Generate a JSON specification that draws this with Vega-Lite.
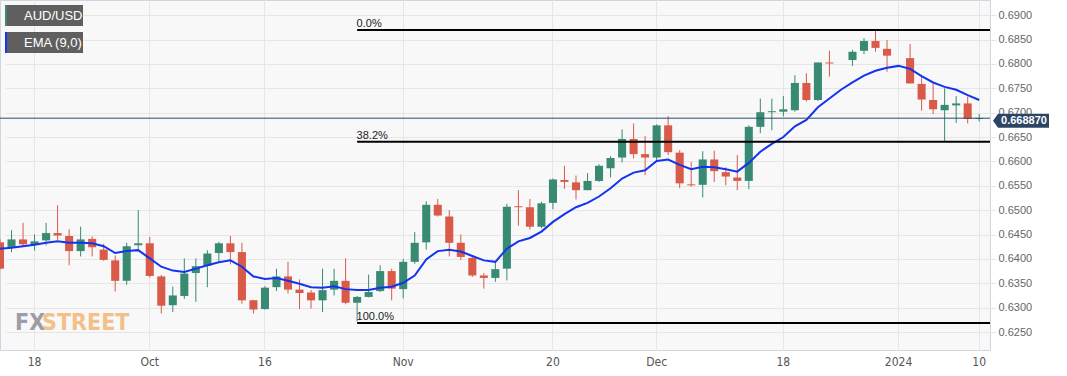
{
  "$schema": "https://vega.github.io/schema/vega-lite/v6.json",
  "width": 990,
  "height": 350,
  "autosize": {"type": "none"},
  "padding": {"left": 0, "top": 0, "right": 77, "bottom": 26},
  "background": "#ffffff",
  "config": {
    "view": {"fill": "#f8f8f8", "stroke": "#cfd5e1", "strokeWidth": 1},
    "axis": {"gridColor": "#e6e6e6", "gridWidth": 1},
    "legend": {"layout": {"top-left": {"direction": "vertical", "margin": 6, "anchor": "start"}}}
  },
  "data": {"values": [
    {"date":"2023-09-13","open":0.6434,"high":0.6440,"low":0.6378,"close":0.6380,"ema":0.6421},
    {"date":"2023-09-14","open":0.6424,"high":0.6459,"low":0.6414,"close":0.6440,"ema":0.6423},
    {"date":"2023-09-15","open":0.6440,"high":0.6474,"low":0.6426,"close":0.6430,"ema":0.6426},
    {"date":"2023-09-18","open":0.6429,"high":0.6450,"low":0.6417,"close":0.6436,"ema":0.6429},
    {"date":"2023-09-19","open":0.6438,"high":0.6474,"low":0.6428,"close":0.6453,"ema":0.6433},
    {"date":"2023-09-20","open":0.6453,"high":0.6510,"low":0.6439,"close":0.6448,"ema":0.6436},
    {"date":"2023-09-21","open":0.6447,"high":0.6461,"low":0.6387,"close":0.6416,"ema":0.6433},
    {"date":"2023-09-22","open":0.6416,"high":0.6466,"low":0.6405,"close":0.6440,"ema":0.6433},
    {"date":"2023-09-25","open":0.6441,"high":0.6446,"low":0.6405,"close":0.6424,"ema":0.6432},
    {"date":"2023-09-26","open":0.6419,"high":0.6431,"low":0.6396,"close":0.6398,"ema":0.6426},
    {"date":"2023-09-27","open":0.6397,"high":0.6407,"low":0.6333,"close":0.6355,"ema":0.6412},
    {"date":"2023-09-28","open":0.6355,"high":0.6433,"low":0.6347,"close":0.6426,"ema":0.6416},
    {"date":"2023-09-29","open":0.6428,"high":0.6500,"low":0.6418,"close":0.6432,"ema":0.6418},
    {"date":"2023-10-02","open":0.6432,"high":0.6445,"low":0.6362,"close":0.6365,"ema":0.6401},
    {"date":"2023-10-03","open":0.6364,"high":0.6367,"low":0.6288,"close":0.6304,"ema":0.6384},
    {"date":"2023-10-04","open":0.6305,"high":0.6343,"low":0.6291,"close":0.6325,"ema":0.6376},
    {"date":"2023-10-05","open":0.6324,"high":0.6401,"low":0.6318,"close":0.6370,"ema":0.6373},
    {"date":"2023-10-06","open":0.6371,"high":0.6401,"low":0.6312,"close":0.6385,"ema":0.6380},
    {"date":"2023-10-09","open":0.6386,"high":0.6418,"low":0.6342,"close":0.6411,"ema":0.6387},
    {"date":"2023-10-10","open":0.6412,"high":0.6435,"low":0.6394,"close":0.6432,"ema":0.6393},
    {"date":"2023-10-11","open":0.6432,"high":0.6447,"low":0.6389,"close":0.6414,"ema":0.6397},
    {"date":"2023-10-12","open":0.6414,"high":0.6433,"low":0.6308,"close":0.6315,"ema":0.6384},
    {"date":"2023-10-13","open":0.6315,"high":0.6316,"low":0.6288,"close":0.6296,"ema":0.6364},
    {"date":"2023-10-16","open":0.6297,"high":0.6344,"low":0.6296,"close":0.6341,"ema":0.6359},
    {"date":"2023-10-17","open":0.6342,"high":0.6380,"low":0.6334,"close":0.6364,"ema":0.6361},
    {"date":"2023-10-18","open":0.6364,"high":0.6394,"low":0.6329,"close":0.6337,"ema":0.6355},
    {"date":"2023-10-19","open":0.6337,"high":0.6358,"low":0.6297,"close":0.6330,"ema":0.6349},
    {"date":"2023-10-20","open":0.6331,"high":0.6336,"low":0.6298,"close":0.6315,"ema":0.6342},
    {"date":"2023-10-23","open":0.6315,"high":0.6380,"low":0.6291,"close":0.6336,"ema":0.6341},
    {"date":"2023-10-24","open":0.6337,"high":0.6380,"low":0.6325,"close":0.6355,"ema":0.6344},
    {"date":"2023-10-25","open":0.6355,"high":0.6401,"low":0.6307,"close":0.6310,"ema":0.6338},
    {"date":"2023-10-26","open":0.6310,"high":0.6324,"low":0.6272,"close":0.6322,"ema":0.6336},
    {"date":"2023-10-27","open":0.6322,"high":0.6368,"low":0.6321,"close":0.6332,"ema":0.6336},
    {"date":"2023-10-30","open":0.6334,"high":0.6387,"low":0.6332,"close":0.6375,"ema":0.6341},
    {"date":"2023-10-31","open":0.6375,"high":0.6380,"low":0.6315,"close":0.6339,"ema":0.6343},
    {"date":"2023-11-01","open":0.6338,"high":0.6400,"low":0.6319,"close":0.6394,"ema":0.6351},
    {"date":"2023-11-02","open":0.6394,"high":0.6455,"low":0.6390,"close":0.6433,"ema":0.6366},
    {"date":"2023-11-03","open":0.6434,"high":0.6518,"low":0.6419,"close":0.6511,"ema":0.6399},
    {"date":"2023-11-06","open":0.6511,"high":0.6523,"low":0.6487,"close":0.6489,"ema":0.6416},
    {"date":"2023-11-07","open":0.6487,"high":0.6500,"low":0.6405,"close":0.6433,"ema":0.6419},
    {"date":"2023-11-08","open":0.6433,"high":0.6450,"low":0.6398,"close":0.6404,"ema":0.6415},
    {"date":"2023-11-09","open":0.6402,"high":0.6407,"low":0.6363,"close":0.6366,"ema":0.6406},
    {"date":"2023-11-10","open":0.6366,"high":0.6371,"low":0.6339,"close":0.6361,"ema":0.6397},
    {"date":"2023-11-13","open":0.6361,"high":0.6394,"low":0.6353,"close":0.6379,"ema":0.6394},
    {"date":"2023-11-14","open":0.6380,"high":0.6513,"low":0.6356,"close":0.6507,"ema":0.6421},
    {"date":"2023-11-15","open":0.6508,"high":0.6541,"low":0.6468,"close":0.6506,"ema":0.6436},
    {"date":"2023-11-16","open":0.6506,"high":0.6523,"low":0.6460,"close":0.6466,"ema":0.6443},
    {"date":"2023-11-17","open":0.6466,"high":0.6517,"low":0.6463,"close":0.6514,"ema":0.6456},
    {"date":"2023-11-20","open":0.6515,"high":0.6565,"low":0.6502,"close":0.6563,"ema":0.6476},
    {"date":"2023-11-21","open":0.6562,"high":0.6591,"low":0.6544,"close":0.6558,"ema":0.6492},
    {"date":"2023-11-22","open":0.6557,"high":0.6571,"low":0.6522,"close":0.6541,"ema":0.6506},
    {"date":"2023-11-23","open":0.6541,"high":0.6576,"low":0.6541,"close":0.6560,"ema":0.6515},
    {"date":"2023-11-24","open":0.6560,"high":0.6594,"low":0.6558,"close":0.6591,"ema":0.6528},
    {"date":"2023-11-27","open":0.6586,"high":0.6611,"low":0.6567,"close":0.6607,"ema":0.6545},
    {"date":"2023-11-28","open":0.6608,"high":0.6666,"low":0.6598,"close":0.6646,"ema":0.6565},
    {"date":"2023-11-29","open":0.6646,"high":0.6678,"low":0.6606,"close":0.6615,"ema":0.6577},
    {"date":"2023-11-30","open":0.6615,"high":0.6652,"low":0.6572,"close":0.6608,"ema":0.6582},
    {"date":"2023-12-01","open":0.6608,"high":0.6676,"low":0.6603,"close":0.6674,"ema":0.6601},
    {"date":"2023-12-04","open":0.6674,"high":0.6693,"low":0.6613,"close":0.6619,"ema":0.6604},
    {"date":"2023-12-05","open":0.6618,"high":0.6623,"low":0.6545,"close":0.6555,"ema":0.6593},
    {"date":"2023-12-06","open":0.6553,"high":0.6599,"low":0.6548,"close":0.6551,"ema":0.6584},
    {"date":"2023-12-07","open":0.6552,"high":0.6621,"low":0.6526,"close":0.6604,"ema":0.6589},
    {"date":"2023-12-08","open":0.6604,"high":0.6622,"low":0.6558,"close":0.6580,"ema":0.6588},
    {"date":"2023-12-11","open":0.6578,"high":0.6588,"low":0.6551,"close":0.6569,"ema":0.6584},
    {"date":"2023-12-12","open":0.6567,"high":0.6613,"low":0.6541,"close":0.6560,"ema":0.6579},
    {"date":"2023-12-13","open":0.6560,"high":0.6674,"low":0.6543,"close":0.6671,"ema":0.6597},
    {"date":"2023-12-14","open":0.6671,"high":0.6729,"low":0.6658,"close":0.6701,"ema":0.6620},
    {"date":"2023-12-15","open":0.6701,"high":0.6729,"low":0.6664,"close":0.6703,"ema":0.6636},
    {"date":"2023-12-18","open":0.6702,"high":0.6734,"low":0.6692,"close":0.6707,"ema":0.6650},
    {"date":"2023-12-19","open":0.6705,"high":0.6777,"low":0.6702,"close":0.6761,"ema":0.6672},
    {"date":"2023-12-20","open":0.6761,"high":0.6781,"low":0.6723,"close":0.6726,"ema":0.6685},
    {"date":"2023-12-21","open":0.6726,"high":0.6803,"low":0.6724,"close":0.6803,"ema":0.6711},
    {"date":"2023-12-22","open":0.6803,"high":0.6827,"low":0.6774,"close":0.6801,"ema":0.6729},
    {"date":"2023-12-25","open":0.6800,"high":0.6800,"low":0.6800,"close":0.6800,"ema":0.6747},
    {"date":"2023-12-26","open":0.6808,"high":0.6829,"low":0.6796,"close":0.6825,"ema":0.6762},
    {"date":"2023-12-27","open":0.6827,"high":0.6853,"low":0.6820,"close":0.6847,"ema":0.6776},
    {"date":"2023-12-28","open":0.6847,"high":0.6870,"low":0.6825,"close":0.6833,"ema":0.6786},
    {"date":"2023-12-29","open":0.6831,"high":0.6849,"low":0.6784,"close":0.6817,"ema":0.6792},
    {"date":"2024-01-01","open":0.6810,"high":0.6810,"low":0.6810,"close":0.6810,"ema":0.6796},
    {"date":"2024-01-02","open":0.6812,"high":0.6841,"low":0.6760,"close":0.6760,"ema":0.6790},
    {"date":"2024-01-03","open":0.6759,"high":0.6774,"low":0.6704,"close":0.6727,"ema":0.6775},
    {"date":"2024-01-04","open":0.6726,"high":0.6760,"low":0.6697,"close":0.6707,"ema":0.6762},
    {"date":"2024-01-05","open":0.6705,"high":0.6750,"low":0.6642,"close":0.6716,"ema":0.6753},
    {"date":"2024-01-08","open":0.6715,"high":0.6734,"low":0.6679,"close":0.6719,"ema":0.6747},
    {"date":"2024-01-09","open":0.6719,"high":0.6733,"low":0.6678,"close":0.6687,"ema":0.6736},
    {"date":"2024-01-10","open":0.6687,"high":0.6697,"low":0.6682,"close":0.6689,"ema":0.6726}
  ]},
  "layer": [
    {
      "mark": {"type": "rule", "strokeWidth": 1},
      "encoding": {
        "x": {"field": "date", "type": "ordinal", "title": null,
          "scale": {"type": "band", "range": [-5.76, 984.96], "paddingInner": 0.3, "paddingOuter": 0.15},
          "axis": {"values": ["2023-09-18","2023-10-02","2023-10-16","2023-11-01","2023-11-20","2023-12-01","2023-12-18","2024-01-01","2024-01-10"],
            "labelExpr": "datum.value == '2023-10-02' ? 'Oct' : datum.value == '2023-11-01' ? 'Nov' : datum.value == '2023-12-01' ? 'Dec' : datum.value == '2024-01-01' ? '2024' : slice(datum.value, 8)",
            "grid": true, "bandPosition": 0.5, "ticks": false, "domain": false, "labelAngle": 0, "labelPadding": 6,
            "labelFont": "Liberation Sans Narrow, DejaVu Sans Condensed, sans-serif", "labelFontSize": 12, "labelColor": "#555555", "title": null}},
        "y": {"field": "low", "type": "quantitative", "title": null,
          "scale": {"domain": [0.62131, 0.69312], "zero": false, "nice": false},
          "axis": {"orient": "right", "values": [0.625,0.63,0.635,0.64,0.645,0.65,0.655,0.66,0.665,0.67,0.675,0.68,0.685,0.69],
            "tickCount": 20, "format": ".4f", "grid": true, "ticks": false, "domain": false, "labelPadding": 8, "labelOverlap": false,
            "labelFont": "Liberation Sans", "labelFontSize": 11, "labelColor": "#666666", "title": null}},
        "y2": {"field": "high"},
        "color": {"condition": [{"test": "datum.close < datum.open", "value": "#d95a48"}, {"test": "datum.close == datum.open", "value": "#222222"}], "value": "#388a73"}
      }
    },
    {
      "mark": {"type": "bar", "minBandSize": 2},
      "encoding": {
        "x": {"field": "date", "type": "ordinal", "title": null},
        "y": {"field": "open", "type": "quantitative", "title": null},
        "y2": {"field": "close"},
        "fill": {
          "condition": [{"test": "datum.close < datum.open", "value": "#d95a48"}, {"test": "datum.close == datum.open", "value": "#222222"}],
          "datum": "AUD/USD",
          "scale": {"range": ["#388a73"]},
          "legend": {"orient": "top-left", "offset": 5, "title": null, "padding": 0, "fillColor": "#5f5f5f",
            "symbolType": "M -1 -1 H -0.81 V 1 H -1 Z", "symbolSize": 441, "symbolStrokeWidth": 0,
            "labelColor": "#ffffff", "labelFontSize": 13, "labelFont": "Liberation Sans", "labelOffset": -2,
            "labelExpr": "datum.label + '\u00a0\u00a0\u00a0'"}
        }
      }
    },
    {
      "mark": {"type": "line", "strokeWidth": 2},
      "encoding": {
        "x": {"field": "date", "type": "ordinal", "title": null},
        "y": {"field": "ema", "type": "quantitative", "title": null},
        "stroke": {
          "datum": "EMA (9,0)",
          "scale": {"range": ["#1233f0"]},
          "legend": {"orient": "top-left", "offset": 5, "title": null, "padding": 0, "fillColor": "#5f5f5f",
            "symbolType": "M -1 -1 H -0.81 V 1 H -1 Z", "symbolSize": 441, "symbolStrokeWidth": 0,
            "labelColor": "#ffffff", "labelFontSize": 13, "labelFont": "Liberation Sans", "labelOffset": -2,
            "labelExpr": "datum.label + '\u00a0\u00a0\u00a0'",
            "encode": {"symbols": {"update": {"fill": {"value": "#1233f0"}, "stroke": {"value": "transparent"}}}}}
        }
      }
    },
    {
      "data": {"values": [
        {"label": "0.0%", "price": 0.68696, "start": "2023-10-26"},
        {"label": "38.2%", "price": 0.66402, "start": "2023-10-26"},
        {"label": "100.0%", "price": 0.62686, "start": "2023-10-26"}
      ]},
      "layer": [
        {
          "mark": {"type": "rule", "strokeWidth": 2, "color": "#000000"},
          "encoding": {
            "x": {"field": "start", "type": "ordinal", "title": null},
            "x2": {"value": "width"},
            "y": {"field": "price", "type": "quantitative", "title": null}
          }
        },
        {
          "mark": {"type": "text", "align": "left", "baseline": "alphabetic", "dy": -3, "dx": -0.5, "fontSize": 11, "font": "Liberation Sans", "color": "#222222"},
          "encoding": {
            "x": {"field": "start", "type": "ordinal", "title": null},
            "y": {"field": "price", "type": "quantitative", "title": null},
            "text": {"field": "label"}
          }
        }
      ]
    },
    {
      "data": {"values": [{"price": 0.66887, "label": "0.668870"}]},
      "layer": [
        {
          "mark": {"type": "rule", "strokeWidth": 1, "color": "#2f4a6b"},
          "encoding": {"y": {"field": "price", "type": "quantitative", "title": null}}
        },
        {
          "mark": {"type": "point", "shape": "M3,2.5 L8,-4.5 L59,-4.5 L59,9.5 L8,9.5 Z", "size": 4, "filled": true, "fill": "#2c4565", "opacity": 1, "strokeWidth": 0},
          "encoding": {
            "x": {"value": "width"},
            "y": {"field": "price", "type": "quantitative", "title": null}
          }
        },
        {
          "mark": {"type": "text", "align": "center", "baseline": "middle", "dx": 34, "dy": 2.5, "fontSize": 11, "fontWeight": "bold", "font": "Liberation Sans", "color": "#ffffff"},
          "encoding": {
            "x": {"value": "width"},
            "y": {"field": "price", "type": "quantitative", "title": null},
            "text": {"field": "label"}
          }
        }
      ]
    },
    {
      "data": {"values": [{"word": "FX", "anchor": "2023-09-14", "price": 0.6254}]},
      "mark": {"type": "text", "align": "left", "baseline": "alphabetic", "dx": 3.5, "fontSize": 23, "fontWeight": "bold", "font": "Liberation Sans Narrow, DejaVu Sans Condensed, sans-serif", "color": "#8c8f99", "opacity": 0.85},
      "encoding": {
        "x": {"field": "anchor", "type": "ordinal", "title": null},
        "y": {"field": "price", "type": "quantitative", "title": null},
        "text": {"field": "word"}
      }
    },
    {
      "data": {"values": [{"word": "STREET", "anchor": "2023-09-18", "price": 0.6254}]},
      "mark": {"type": "text", "align": "left", "baseline": "alphabetic", "dx": 7.5, "fontSize": 23, "fontWeight": "bold", "font": "Liberation Sans Narrow, DejaVu Sans Condensed, sans-serif", "color": "#f2bb7c", "opacity": 0.9},
      "encoding": {
        "x": {"field": "anchor", "type": "ordinal", "title": null},
        "y": {"field": "price", "type": "quantitative", "title": null},
        "text": {"field": "word"}
      }
    }
  ]
}
